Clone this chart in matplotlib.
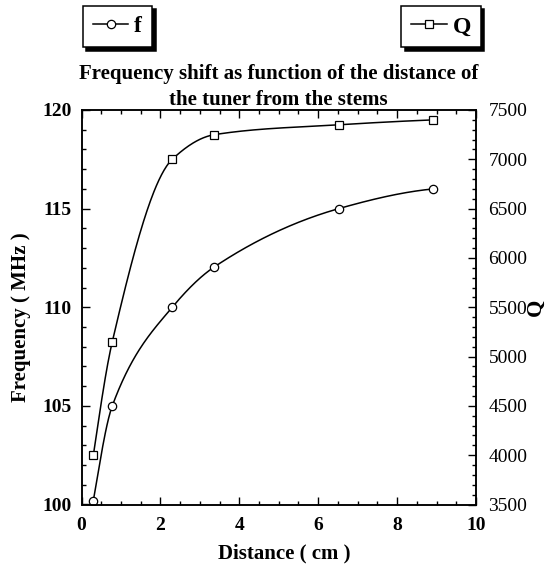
import numpy as np
import matplotlib
matplotlib.use("Agg")
import matplotlib.pyplot as plt
from matplotlib.ticker import MultipleLocator
from matplotlib.lines import Line2D

plt.rcParams['font.family'] = ['Liberation Serif', 'DejaVu Serif']

# data
distance = [0.3, 0.78, 2.3, 3.37, 6.52, 8.92]      # cm
freq = [100.2, 105.0, 110.0, 112.05, 115.0, 116.0]  # MHz
q_factor = [4000, 5150, 7000, 7250, 7350, 7400]

title = "Frequency shift as function of the distance of\nthe tuner from the stems"
label_size = 14


def pchip(x, y, xs):
    # monotone cubic through the points, only used to draw the smooth line
    x = np.asarray(x, float)
    y = np.asarray(y, float)
    h = np.diff(x)
    d = np.diff(y) / h
    m = np.zeros_like(y)
    for k in range(1, len(x) - 1):
        if d[k - 1] * d[k] > 0:
            w1 = 2 * h[k] + h[k - 1]
            w2 = h[k] + 2 * h[k - 1]
            m[k] = (w1 + w2) / (w1 / d[k - 1] + w2 / d[k])
    m[0] = ((2 * h[0] + h[1]) * d[0] - h[0] * d[1]) / (h[0] + h[1])
    if np.sign(m[0]) != np.sign(d[0]):
        m[0] = 0
    elif abs(m[0]) > 3 * abs(d[0]):
        m[0] = 3 * d[0]
    m[-1] = ((2 * h[-1] + h[-2]) * d[-1] - h[-1] * d[-2]) / (h[-1] + h[-2])
    if np.sign(m[-1]) != np.sign(d[-1]):
        m[-1] = 0
    elif abs(m[-1]) > 3 * abs(d[-1]):
        m[-1] = 3 * d[-1]
    idx = np.clip(np.searchsorted(x, xs) - 1, 0, len(x) - 2)
    t = (xs - x[idx]) / h[idx]
    h00 = 2 * t**3 - 3 * t**2 + 1
    h10 = t**3 - 2 * t**2 + t
    h01 = -2 * t**3 + 3 * t**2
    h11 = t**3 - t**2
    return h00 * y[idx] + h10 * h[idx] * m[idx] + h01 * y[idx + 1] + h11 * h[idx] * m[idx + 1]


fig = plt.figure(figsize=(5.48, 5.64), dpi=100)
ax1 = fig.add_axes([81.5 / 548, 1 - 504.5 / 564, (476 - 81.5) / 548, (504.5 - 110) / 564])
ax2 = ax1.twinx()

xs = np.linspace(distance[0], distance[-1], 400)
lw = 1.1
ax1.plot(xs, pchip(distance, freq, xs), '-', color='black', lw=lw)
ax1.plot(distance, freq, 'o', ms=6, mfc='white', mec='black', mew=0.9)
ax2.plot(xs, pchip(distance, q_factor, xs), '-', color='black', lw=lw)
ax2.plot(distance, q_factor, 's', ms=6, mfc='white', mec='black', mew=0.9)

ax1.set_xlim(0, 10)
ax1.set_ylim(100, 120)
ax2.set_ylim(3500, 7500)

ax1.xaxis.set_major_locator(MultipleLocator(2))
ax1.xaxis.set_minor_locator(MultipleLocator(0.5))
ax1.yaxis.set_major_locator(MultipleLocator(5))
ax1.yaxis.set_minor_locator(MultipleLocator(1))
ax2.yaxis.set_major_locator(MultipleLocator(500))
ax2.yaxis.set_minor_locator(MultipleLocator(100))

ax1.tick_params(axis='x', which='both', direction='in', top=True, bottom=True)
ax1.tick_params(axis='y', which='both', direction='in', left=True, right=False)
ax2.tick_params(axis='y', which='both', direction='in', right=True)
for a in (ax1, ax2):
    a.tick_params(which='major', length=6, width=1.0, labelsize=label_size)
    a.tick_params(which='minor', length=3, width=1.0)
    for s in a.spines.values():
        s.set_linewidth(1.1)
ax1.tick_params(axis='y', pad=7)
ax1.tick_params(axis='x', pad=9)
ax2.tick_params(axis='y', pad=9)

for t in ax1.get_xticklabels() + ax1.get_yticklabels():
    t.set_fontweight('bold')

ax1.set_xlabel('Distance ( cm )', fontsize=15, fontweight='bold', labelpad=7)
ax1.set_ylabel('Frequency ( MHz )', fontsize=15, fontweight='bold', labelpad=8)
ax1.xaxis.label.set_x(0.515)
ax1.yaxis.label.set_y(0.475)
ax2.set_ylabel('Q', fontsize=16, fontweight='bold', labelpad=-1)

ax1.set_title(title, fontsize=15, fontweight='bold', pad=0, linespacing=1.39)

shadow = {'ox': 2.5, 'oy': -2.5, 'color': 'black', 'alpha': 1}
h_f = Line2D([], [], color='black', lw=lw, marker='o', ms=6, mfc='white', mec='black', mew=0.9)
h_q = Line2D([], [], color='black', lw=lw, marker='s', ms=6, mfc='white', mec='black', mew=0.9)
leg_kw = dict(borderaxespad=0, fancybox=False, shadow=shadow, framealpha=1, edgecolor='black',
              numpoints=1, handlelength=1.5, handletextpad=0.25, borderpad=0.42,
              prop={'size': 17, 'weight': 'bold'})
leg1 = fig.legend(handles=[h_f], labels=['f'], loc='upper left',
                  bbox_to_anchor=(83 / 548, 1 - 6 / 564), **leg_kw)
leg2 = fig.legend(handles=[h_q], labels=['Q'], loc='upper right',
                  bbox_to_anchor=(481 / 548, 1 - 6 / 564), **leg_kw)
for lg in (leg1, leg2):
    lg.get_frame().set_linewidth(1.1)

fig.savefig("out.png", dpi=100)
